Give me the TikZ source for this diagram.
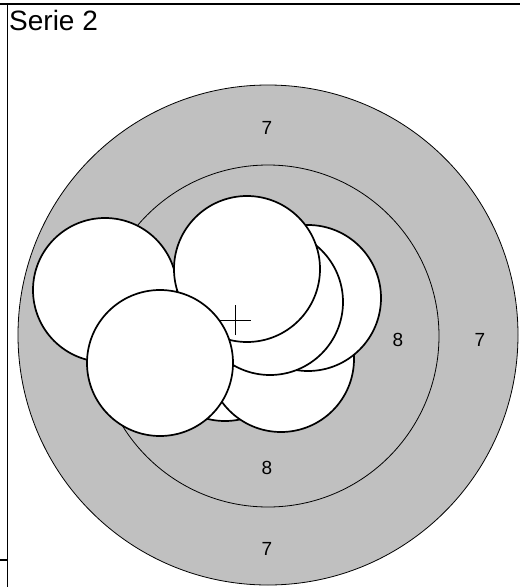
\documentclass[tikz,border=0pt]{standalone}
\usepackage{fontspec}
\setmainfont{Liberation Sans}
\begin{document}
\begin{tikzpicture}[x=1pt,y=-1pt,
  shot/.style={draw=black,fill=white,line width=1.7pt},
  ring/.style={draw=black,line width=0.8pt},
  lbl/.style={font=\fontsize{19}{19}\selectfont,inner sep=0pt},
  frame/.style={draw=black,line width=1.3pt}]
\useasboundingbox (0,0) rectangle (520,587);
\begin{scope}
\clip (0,0) rectangle (520,587);
% target rings
\fill[fill={rgb,255:red,192;green,192;blue,192}] (268,335) circle (250);
\draw[ring] (268,335) circle (250);
\draw[ring] (268,336) circle (171);
\node[lbl] (l7t) at (267,128) {7};
\node[lbl] (l7r) at (480,340) {7};
\node[lbl] (l8r) at (398,340) {8};
\node[lbl] (l8b) at (267,468) {8};
\node[lbl] (l7b) at (267,549) {7};
% shots
\draw[shot] (225,348) circle (73);
\draw[shot] (252,312) circle (73);
\draw[shot] (281,359) circle (73);
\draw[shot] (308,298) circle (73);
\draw[shot] (270,302) circle (73);
\draw[shot] (105,290) circle (72);
\draw[shot] (247,269) circle (73);
\coordinate (cc) at (235,320);
\draw[line width=0.9pt] ([xshift=-16pt]cc) -- ([xshift=16pt]cc) ([yshift=-15pt]cc) -- ([yshift=15pt]cc);
\draw[shot] (160,363) circle (73);
% frame
\draw[frame] (0,4) -- (520,4);
\draw[frame] (7.5,4) -- (7.5,587);
\draw[frame] (0,560) -- (7.5,560);
\end{scope}
\node[anchor=base west,inner sep=0pt,font=\fontsize{28}{28}\selectfont] (title) at (9,30) {Serie 2};
\end{tikzpicture}
\end{document}
